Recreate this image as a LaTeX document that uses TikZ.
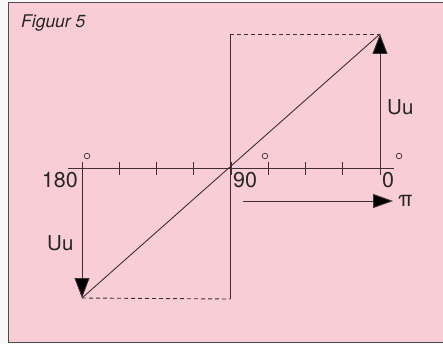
\documentclass[tikz,border=0pt]{standalone}
\usepackage{fontspec}
\setmainfont{TeX Gyre Heros}
\usepackage{xcolor}
\usepackage{tikz}
\usetikzlibrary{arrows.meta}
\definecolor{paper}{RGB}{248,205,213}
\definecolor{ink}{RGB}{62,46,54}

\begin{document}
\begin{tikzpicture}[x=1pt,y=-1pt,
    lbl/.style={font=\fontsize{21.5}{24}\selectfont, text=black!85, inner sep=0pt},
    uu/.style={font=\fontsize{20.5}{24}\selectfont, text=black!85, inner sep=0pt},
    solidline/.style={ink, line width=0.9pt},
    dashline/.style={ink, line width=0.9pt, dash pattern=on 4pt off 3pt},
    bigtip/.style={-{Triangle[length=20pt,width=15pt,fill=black]}}]
    \useasboundingbox (0,0) rectangle (443,344);
    \fill[gray!5] (0,0) rectangle (443,344);
    \draw[fill=paper, draw=gray!60!black, line width=1pt] (8,3) rectangle (444,342);
    \node[font=\fontsize{17.5}{20}\selectfont\itshape, text=black!85, anchor=base west, inner sep=0pt] (title) at (21,28) {Figuur 5};
    % points
    \coordinate (axl) at (68,168);
    \coordinate (axr) at (394,168);
    \coordinate (a180) at (82,168);
    \coordinate (a90) at (230,168);
    \coordinate (a0) at (380,168);
    \coordinate (top) at (380,34);
    \coordinate (topm) at (230,34);
    \coordinate (bot) at (82,298);
    \coordinate (botm) at (230,299);
    \coordinate (pis) at (243,201);
    \coordinate (pie) at (393,201);
    % axis and ticks
    \draw[solidline] (axl) -- (axr);
    \foreach \i in {0,...,8}
        \draw[solidline] ({82+37.25*\i},162) -- ++(0,13);
    \foreach \x in {87,265,399}
        \draw[ink, line width=0.7pt] (\x,156) circle (2.8pt);
    % box
    \draw[solidline, line width=0.7pt] (topm) -- (botm);
    \draw[dashline] (topm) -- (top);
    \draw[dashline] (bot) -- (botm);
    \draw[solidline] (bot) -- (top);
    \draw[solidline, bigtip] (a0) -- (top);
    \draw[solidline, bigtip] (a180) -- (bot);
    \draw[solidline, -{Triangle[length=20pt,width=14pt,fill=black]}] (pis) -- (pie);
    % labels
    \node[lbl, anchor=base east] (l180) at (78,188) {180};
    \node[lbl, anchor=base west] (l90) at (233,188) {90};
    \node[lbl, anchor=base west] (l0) at (382,188) {0};
    \node[lbl, anchor=base west] (lpi) at (398,207) {π};
    \node[uu, anchor=base west] (lur) at (387,115) {Uu};
    \node[uu, anchor=base west] (lul) at (47,250) {Uu};
\end{tikzpicture}
\end{document}
